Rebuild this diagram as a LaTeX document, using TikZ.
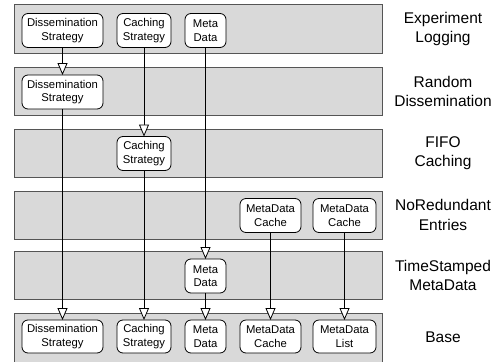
\documentclass[tikz,border=0pt]{standalone}
\usepackage{fontspec}
\setmainfont{Liberation Sans}
\usetikzlibrary{arrows.meta}
\definecolor{bandfill}{HTML}{D9D9D9}
\definecolor{bandline}{HTML}{555555}
\begin{document}
\begin{tikzpicture}[x=1pt,y=-1pt,
 band/.style={draw=bandline, fill=bandfill, line width=1pt, minimum width=368pt, minimum height=48pt, inner sep=0pt, outer sep=0pt},
 comp/.style={draw=black, fill=white, line width=0.8pt, rounded corners=6pt, align=center, inner sep=0pt, outer sep=0pt, minimum height=34pt, font=\fontsize{11.3}{13.5}\selectfont},
 lbl/.style={align=center, inner sep=0pt, font=\fontsize{15.5}{19.5}\selectfont},
 flow/.style={draw=black, line width=0.8pt, -{Triangle[length=12pt,width=10pt,fill=white]}}]
\useasboundingbox (0,0) rectangle (502,361);
% bands
\node[band] (b1) at (198,29) {};
\node[band] (b2) at (198,91.5) {};
\node[band] (b3) at (198,153) {};
\node[band] (b4) at (198,215) {};
\node[band] (b5) at (198,275.5) {};
\node[band, minimum height=50pt] (b6) at (198,338) {};
% layer labels
\node[lbl] (l1) at (443,29) {Experiment\\Logging};
\node[lbl] (l2) at (443,91.5) {Random\\Dissemination};
\node[lbl] (l3) at (443,153) {FIFO\\Caching};
\node[lbl] (l4) at (443,215) {NoRedundant\\Entries};
\node[lbl] (l5) at (443,275.5) {TimeStamped\\MetaData};
\node[lbl] (l6) at (443,337) {Base};
% Experiment Logging
\node[comp, minimum width=81pt] (e-ds) at (62.5,30.5) {Dissemination\\Strategy};
\node[comp, minimum width=54pt] (e-cs) at (144,30.5) {Caching\\Strategy};
\node[comp, minimum width=41pt] (e-md) at (205.5,30.5) {Meta\\Data};
% Random Dissemination
\node[comp, minimum width=81pt] (r-ds) at (62.5,92) {Dissemination\\Strategy};
% FIFO Caching
\node[comp, minimum width=54pt] (f-cs) at (144,153.5) {Caching\\Strategy};
% NoRedundant Entries
\node[comp, minimum width=61pt] (n-mc1) at (270.5,215.5) {MetaData\\Cache};
\node[comp, minimum width=63pt] (n-mc2) at (344.5,215.5) {MetaData\\Cache};
% TimeStamped MetaData
\node[comp, minimum width=41pt] (t-md) at (205.5,276) {Meta\\Data};
% Base
\node[comp, minimum width=81pt, minimum height=33pt] (x-ds) at (62.5,336.5) {Dissemination\\Strategy};
\node[comp, minimum width=54pt, minimum height=33pt] (x-cs) at (144,336.5) {Caching\\Strategy};
\node[comp, minimum width=41pt, minimum height=33pt] (x-md) at (205.5,336.5) {Meta\\Data};
\node[comp, minimum width=61pt, minimum height=33pt] (x-mc) at (270.5,336.5) {MetaData\\Cache};
\node[comp, minimum width=63pt, minimum height=33pt] (x-ml) at (344.5,336.5) {MetaData\\List};
% refinements
\draw[flow] (e-ds.south) -- (r-ds.north);
\draw[flow] (e-cs.south) -- (f-cs.north);
\draw[flow] (e-md.south) -- (t-md.north);
\draw[flow] (r-ds.south) -- (x-ds.north);
\draw[flow] (f-cs.south) -- (x-cs.north);
\draw[flow] (t-md.south) -- (x-md.north);
\draw[flow] (n-mc1.south) -- (x-mc.north);
\draw[flow] (n-mc2.south) -- (x-ml.north);
\end{tikzpicture}
\end{document}
